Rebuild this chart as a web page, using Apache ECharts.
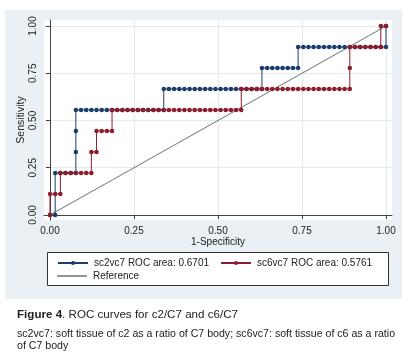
<!DOCTYPE html>
<html>
<head>
<meta charset="UTF-8">
<title>ROC curves</title>
<script src="https://cdn.jsdelivr.net/npm/echarts@6/dist/echarts.min.js"></script>
<style>
  html, body { margin: 0; padding: 0; background: #fff; }
  #main { width: 408px; height: 363px; }
</style>
</head>
<body>
<div id="main"></div>
<script>
// counts: 65 negatives, 9 positives -> (false positives, true positives) per cutoff
var nNeg = 65;
var nPos = 9;
var sc2Counts = [
  [0,0],[1,0],[1,2],[2,2],[3,2],[4,2],[5,2],[5,3],[5,4],[5,5],
  [6,5],[7,5],[8,5],[9,5],[10,5],[11,5],[12,5],[13,5],[14,5],[15,5],[16,5],[17,5],[18,5],[19,5],[20,5],[21,5],[22,5],
  [22,6],[23,6],[24,6],[25,6],[26,6],[27,6],[28,6],[29,6],[30,6],[31,6],[32,6],[33,6],[34,6],[35,6],[36,6],[37,6],[38,6],[39,6],[40,6],[41,6],
  [41,7],[42,7],[43,7],[44,7],[45,7],[46,7],[47,7],[48,7],
  [48,8],[49,8],[50,8],[51,8],[52,8],[53,8],[54,8],[55,8],[56,8],[57,8],[58,8],[59,8],[60,8],[61,8],[62,8],[63,8],[64,8],[65,8],
  [65,9]
];
var sc6Counts = [
  [0,0],[0,1],[1,1],[2,1],[2,2],[3,2],[4,2],[5,2],[6,2],[7,2],[8,2],[8,3],[9,3],[9,4],[10,4],[11,4],[12,4],
  [12,5],[13,5],[14,5],[15,5],[16,5],[17,5],[18,5],[19,5],[20,5],[21,5],[22,5],[23,5],[24,5],[25,5],[26,5],[27,5],[28,5],[29,5],[30,5],[31,5],[32,5],[33,5],[34,5],[35,5],[36,5],[37,5],
  [37,6],[38,6],[39,6],[40,6],[41,6],[42,6],[43,6],[44,6],[45,6],[46,6],[47,6],[48,6],[49,6],[50,6],[51,6],[52,6],[53,6],[54,6],[55,6],[56,6],[57,6],[58,6],
  [58,7],[58,8],[59,8],[60,8],[61,8],[62,8],[63,8],[64,8],[64,9],[65,9]
];
var refLine = [[0, 0], [1, 1]];
var ticks = [0, 0.25, 0.5, 0.75, 1];
var names = ['sc2vc7 ROC area: 0.6701', 'sc6vc7 ROC area: 0.5761', 'Reference'];

function toRates(counts) {
  return counts.map(function (c) { return [c[0] / nNeg, c[1] / nPos]; });
}

var font = 'Liberation Sans, Arial, sans-serif';
var chart = echarts.init(document.getElementById('main'));

chart.setOption({
  animation: false,
  backgroundColor: '#fff',
  textStyle: { fontFamily: font },
  grid: {
    left: 44, right: 16, top: 20, bottom: 143,
    show: true, backgroundColor: '#fff', borderWidth: 0
  },
  xAxis: {
    type: 'value',
    min: -0.0179, max: 1.0179,
    name: '1-Specificity',
    nameLocation: 'middle',
    nameGap: 17,
    nameMoveOverlap: false,
    nameTextStyle: { fontSize: 10, color: '#222', fontFamily: font },
    axisLine: { lineStyle: { color: '#444', width: 1 } },
    axisTick: { length: 4, customValues: ticks, lineStyle: { color: '#444' } },
    axisLabel: {
      customValues: ticks, fontSize: 10, color: '#222', margin: 6,
      formatter: function (v) { return v.toFixed(2); }
    },
    splitLine: { show: true, lineStyle: { color: '#e4eaed', width: 1 } }
  },
  yAxis: {
    type: 'value',
    min: -0.0266, max: 1.0319,
    name: 'Sensitivity',
    nameLocation: 'middle',
    nameRotate: 90,
    nameGap: 17,
    nameMoveOverlap: false,
    nameTextStyle: { fontSize: 10.5, color: '#222', fontFamily: font },
    axisLine: { show: true, lineStyle: { color: '#444', width: 1 } },
    axisTick: { show: true, length: 4, customValues: ticks, lineStyle: { color: '#444' } },
    axisLabel: {
      customValues: ticks, fontSize: 10, color: '#222', margin: 6, rotate: 90,
      formatter: function (v) { return v.toFixed(2); }
    },
    splitLine: { show: true, lineStyle: { color: '#e4eaed', width: 1 } }
  },
  legend: [
    {
      data: [names[0], names[1]],
      left: 52, top: 253,
      itemWidth: 30, itemHeight: 5, itemGap: 11,
      selectedMode: false,
      textStyle: { fontSize: 10, color: '#222', padding: [0, 0, 0, 1], fontFamily: font }
    },
    {
      data: [{ name: names[2], icon: 'rect' }],
      left: 52, top: 266,
      itemWidth: 30, itemHeight: 1,
      selectedMode: false,
      textStyle: { fontSize: 10, color: '#222', padding: [0, 0, 0, 1], fontFamily: font }
    }
  ],
  graphic: [
    { type: 'rect', z: -10, shape: { x: 5, y: 10, width: 397, height: 289 }, style: { fill: '#eaf0f3' } },
    { type: 'rect', z: 1, shape: { x: 47.5, y: 252.5, width: 341, height: 33 }, style: { fill: '#fff', stroke: '#333', lineWidth: 1 } },
    {
      type: 'text', left: 17, top: 309,
      style: {
        text: '{b|Figure 4}. ROC curves for c2/C7 and c6/C7',
        font: '11.6px ' + font, fill: '#222',
        rich: { b: { fontWeight: 'bold', fontSize: 11.6, fontFamily: font, fill: '#222' } }
      }
    },
    {
      type: 'text', left: 17, top: 328,
      style: {
        text: 'sc2vc7: soft tissue of c2 as a ratio of C7 body; sc6vc7: soft tissue of c6 as a ratio\nof C7 body',
        font: '10.6px ' + font, fill: '#222', lineHeight: 12
      }
    }
  ],
  series: [
    {
      name: names[0], type: 'line', z: 3,
      data: toRates(sc2Counts),
      symbol: 'circle', symbolSize: 4.5,
      color: '#1b3c6c',
      lineStyle: { width: 1, color: '#1b3c6c' },
      itemStyle: { color: '#1b3c6c' }
    },
    {
      name: names[1], type: 'line', z: 4,
      data: toRates(sc6Counts),
      symbol: 'circle', symbolSize: 4.5,
      color: '#8d1c2d',
      lineStyle: { width: 1, color: '#8d1c2d' },
      itemStyle: { color: '#8d1c2d' }
    },
    {
      name: names[2], type: 'line', z: 2,
      data: refLine,
      symbol: 'none',
      color: '#1e2e38',
      lineStyle: { width: 0.8, color: '#3a5752' },
      itemStyle: { color: '#1e2e38' }
    }
  ]
});
</script>
</body>
</html>
